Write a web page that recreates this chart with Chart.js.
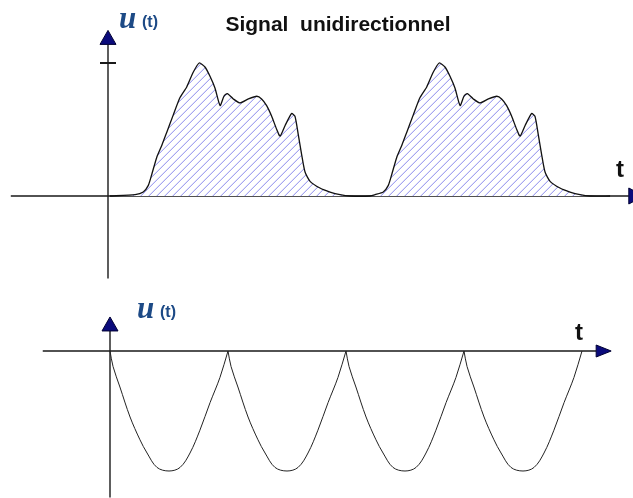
<!DOCTYPE html>
<html>
<head>
<meta charset="utf-8">
<script src="https://cdn.jsdelivr.net/npm/chart.js@4.4.0/dist/chart.umd.min.js"></script>
<style>
  html, body { margin: 0; padding: 0; background: #fff; }
  #wrap { width: 633px; height: 498px; position: relative; }
</style>
</head>
<body>
<div id="wrap"><canvas id="signal"></canvas></div>
<script>
// top signal: t (arbitrary units, period 10), u normalised to the peak
const topT = [0.08, 1.13, 1.47, 1.68, 1.82, 2.03, 2.24, 2.45, 2.72, 3.0,
  3.28, 3.55, 3.8, 4.04, 4.25, 4.46, 4.67, 4.83, 4.97, 5.22,
  5.5, 5.85, 6.2, 6.4, 6.61, 6.82, 7.03, 7.17, 7.38, 7.65,
  7.79, 7.93, 8.07, 8.21, 8.42, 8.83, 9.25, 9.67, 10.08,
  10.92, 11.13, 11.47, 11.68, 11.82, 12.03, 12.24, 12.45, 12.72, 13.0,
  13.28, 13.55, 13.8, 14.04, 14.25, 14.46, 14.67, 14.83, 14.97, 15.22,
  15.5, 15.85, 16.2, 16.4, 16.61, 16.82, 17.03, 17.17, 17.38, 17.65,
  17.79, 17.93, 18.07, 18.21, 18.42, 18.83, 19.25, 19.67, 20.08, 20.92];
const topU = [0, 0.01, 0.03, 0.08, 0.16, 0.29, 0.38, 0.48, 0.61, 0.74,
  0.82, 0.93, 1.0, 0.97, 0.90, 0.81, 0.68, 0.75, 0.77, 0.73,
  0.70, 0.73, 0.75, 0.73, 0.68, 0.60, 0.50, 0.45, 0.53, 0.62,
  0.60, 0.46, 0.31, 0.18, 0.11, 0.06, 0.03, 0.01, 0,
  0, 0.01, 0.03, 0.08, 0.16, 0.29, 0.38, 0.48, 0.61, 0.74,
  0.82, 0.93, 1.0, 0.97, 0.90, 0.81, 0.68, 0.75, 0.77, 0.73,
  0.70, 0.73, 0.75, 0.73, 0.68, 0.60, 0.50, 0.45, 0.53, 0.62,
  0.60, 0.46, 0.31, 0.18, 0.11, 0.06, 0.03, 0.01, 0, 0];

// bottom signal: four arches between cusps at 0, 5, 10, 15, 20
const botT = [0, 0.13, 0.42, 0.85, 1.27, 1.57, 1.99, 2.5, 2.97, 3.39, 3.81, 4.24, 4.66,
  5, 5.13, 5.42, 5.85, 6.27, 6.57, 6.99, 7.5, 7.97, 8.39, 8.81, 9.24, 9.66,
  10, 10.13, 10.42, 10.85, 11.27, 11.57, 11.99, 12.5, 12.97, 13.39, 13.81, 14.24, 14.66,
  15, 15.13, 15.42, 15.85, 16.27, 16.57, 16.99, 17.5, 17.97, 18.39, 18.81, 19.24, 19.66, 20];
const botU = [0, -0.13, -0.30, -0.55, -0.74, -0.85, -0.97, -1.0, -0.97, -0.85, -0.66, -0.43, -0.22,
  0, -0.13, -0.30, -0.55, -0.74, -0.85, -0.97, -1.0, -0.97, -0.85, -0.66, -0.43, -0.22,
  0, -0.13, -0.30, -0.55, -0.74, -0.85, -0.97, -1.0, -0.97, -0.85, -0.66, -0.43, -0.22,
  0, -0.13, -0.30, -0.55, -0.74, -0.85, -0.97, -1.0, -0.97, -0.85, -0.66, -0.43, -0.22, 0];

const title = 'Signal  unidirectionnel';
const navy = '#1d4a86';

const canvas = document.getElementById('signal');

// opaque 8x8 tile: white ground, thin light-blue "/" stripe
function hatch() {
  const c = document.createElement('canvas');
  c.width = 8; c.height = 8;
  const g = c.getContext('2d');
  g.fillStyle = '#ffffff';
  g.fillRect(0, 0, 8, 8);
  g.fillStyle = '#e2e2fb';
  for (let i = 0; i < 8; i++) g.fillRect(i, 7 - i, 1, 1);
  g.fillStyle = '#a6a6f0';
  for (let i = 0; i < 8; i++) g.fillRect(i, (8 - i) % 8, 1, 1);
  return canvas.getContext('2d').createPattern(c, 'repeat');
}

// split the bottom curve at its cusps so each arch keeps a sharp point
const arches = [];
let cur = [];
botT.forEach((t, i) => {
  cur.push({ x: t, y: botU[i] });
  if (botU[i] === 0 && cur.length > 1) {
    arches.push(cur);
    cur = [{ x: t, y: 0 }];
  }
});

function arrow(ctx, x, y, dx, dy, len, half) {
  // tip at (x, y), pointing along (dx, dy)
  const bx = x - dx * len, by = y - dy * len;
  ctx.beginPath();
  ctx.moveTo(x, y);
  ctx.lineTo(bx - dy * half, by + dx * half);
  ctx.lineTo(bx + dy * half, by - dx * half);
  ctx.closePath();
  ctx.fillStyle = '#0b0b7c';
  ctx.fill();
  ctx.strokeStyle = '#000033';
  ctx.lineWidth = 1;
  ctx.stroke();
}

const axes = {
  id: 'axes',
  beforeDatasetsDraw(chart) {
    const { ctx, scales: { x, y, x2, y2 } } = chart;
    ctx.save();
    ctx.strokeStyle = '#1a1a1a';
    ctx.lineWidth = 1.4;

    // top graph
    const ox = x.getPixelForValue(0), oy = y.getPixelForValue(0);
    ctx.beginPath();
    ctx.moveTo(x.getPixelForValue(-4.05), oy);
    ctx.lineTo(x.getPixelForValue(21.7), oy);
    ctx.moveTo(ox, y.getPixelForValue(-0.62));
    ctx.lineTo(ox, y.getPixelForValue(1.14));
    ctx.stroke();
    ctx.lineWidth = 2;
    ctx.beginPath();
    ctx.moveTo(ox - 8, y.getPixelForValue(1));
    ctx.lineTo(ox + 8, y.getPixelForValue(1));
    ctx.stroke();
    arrow(ctx, x.getPixelForValue(21.7) + 15, oy, 1, 0, 15, 8);
    arrow(ctx, ox, y.getPixelForValue(1.14) - 14, 0, -1, 14, 8);

    // bottom graph
    const bx = x2.getPixelForValue(0), by = y2.getPixelForValue(0);
    ctx.strokeStyle = '#1a1a1a';
    ctx.lineWidth = 1.4;
    ctx.beginPath();
    ctx.moveTo(x2.getPixelForValue(-2.85), by);
    ctx.lineTo(x2.getPixelForValue(20.6), by);
    ctx.moveTo(bx, y2.getPixelForValue(-1.22));
    ctx.lineTo(bx, y2.getPixelForValue(0.167));
    ctx.stroke();
    arrow(ctx, x2.getPixelForValue(20.6) + 15, by, 1, 0, 15, 6);
    arrow(ctx, bx, y2.getPixelForValue(0.167) - 14, 0, -1, 14, 8);
    ctx.restore();
  },
  afterDatasetsDraw(chart) {
    const { ctx, scales: { x, y, x2, y2 } } = chart;
    const ox = x.getPixelForValue(0), oy = y.getPixelForValue(0);
    const bx = x2.getPixelForValue(0), by = y2.getPixelForValue(0);
    ctx.save();
    ctx.textBaseline = 'alphabetic';

    ctx.fillStyle = '#111';
    ctx.font = 'bold 21px "Liberation Sans", Arial, sans-serif';
    ctx.textAlign = 'center';
    ctx.fillText(title, 338, 31);

    ctx.textAlign = 'left';
    ctx.font = 'bold 24px "Liberation Sans", Arial, sans-serif';
    ctx.fillText('t', 616, oy - 19);
    ctx.fillText('t', 575, by - 11);

    ctx.fillStyle = navy;
    [[ox + 11, 28], [bx + 27, 318]].forEach(([lx, ly]) => {
      ctx.font = 'italic bold 31px "Liberation Serif", "DejaVu Serif", serif';
      ctx.fillText('u', lx, ly);
      ctx.font = 'bold 16px "Liberation Sans", Arial, sans-serif';
      ctx.fillText('(t)', lx + 23, ly - 1);
    });
    ctx.restore();
  }
};

const datasets = [{
  data: topT.map((t, i) => ({ x: t, y: topU[i] })),
  xAxisID: 'x',
  yAxisID: 'y',
  borderColor: '#111',
  borderWidth: 1.3,
  pointRadius: 0,
  tension: 0.2,
  fill: { target: 'origin', above: hatch() }
}];
arches.forEach(a => datasets.push({
  data: a,
  xAxisID: 'x2',
  yAxisID: 'y2',
  borderColor: '#222',
  borderWidth: 1,
  pointRadius: 0,
  tension: 0.35,
  fill: false
}));

new Chart(canvas, {
  type: 'line',
  data: { datasets: datasets },
  options: {
    responsive: true,
    maintainAspectRatio: false,
    animation: false,
    layout: { padding: 0 },
    plugins: { legend: { display: false }, tooltip: { enabled: false } },
    scales: {
      x: { type: 'linear', display: false, min: -108 / 24, max: (633 - 108) / 24 },
      y: { display: false, min: (196 - 498) / 133, max: 196 / 133 },
      x2: { type: 'linear', display: false, min: -110 / 23.6, max: (633 - 110) / 23.6 },
      y2: { display: false, min: (351 - 498) / 120, max: 351 / 120 }
    }
  },
  plugins: [axes]
});
</script>
</body>
</html>
